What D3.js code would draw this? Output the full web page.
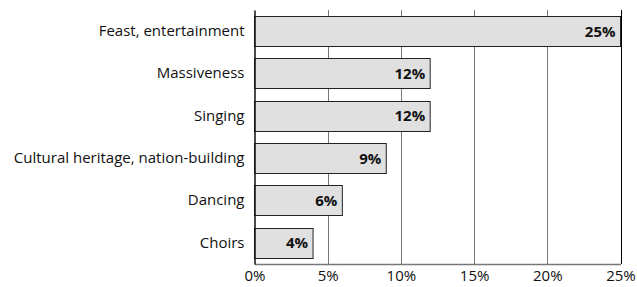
<!DOCTYPE html>
<html>
<head>
<meta charset="utf-8">
<script src="https://cdn.jsdelivr.net/npm/d3@7"></script>
<style>
  body { margin: 0; background: #fff; }
  svg { display: block; font-family: "Open Sans", "Noto Sans", sans-serif; }
</style>
</head>
<body>
<div id="chart"></div>
<script>
const categories = ["Feast, entertainment", "Massiveness", "Singing", "Cultural heritage, nation-building", "Dancing", "Choirs"];
const values = [25, 12, 12, 9, 6, 4];
const tickValues = [0, 5, 10, 15, 20, 25];

const width = 637;
const height = 287;
const marginLeft = 254.5;
const marginRight = 16.5;
const marginTop = 10;
const marginBottom = 23;

const data = categories.map((c, i) => ({ cat: c, val: values[i] }));

const x = d3.scaleLinear()
  .domain([0, 25])
  .range([marginLeft, width - marginRight]);

const y = d3.scaleBand()
  .domain(categories)
  .range([marginTop, height - marginBottom])
  .paddingInner(0.29)
  .paddingOuter(0.145);

const svg = d3.create("svg")
  .attr("width", width)
  .attr("height", height);

// gridlines
svg.append("g")
  .selectAll("line")
  .data(tickValues.slice(1))
  .join("line")
  .attr("x1", d => Math.round(x(d)) + 0.5)
  .attr("x2", d => Math.round(x(d)) + 0.5)
  .attr("y1", marginTop)
  .attr("y2", height - marginBottom)
  .attr("stroke", d => d === 25 ? "#000" : "#777")
  .attr("stroke-width", 1);

// bars
svg.append("g")
  .selectAll("rect")
  .data(data)
  .join("rect")
  .attr("x", x(0))
  .attr("y", d => Math.round(y(d.cat)) + 0.5)
  .attr("width", d => x(d.val) - x(0))
  .attr("height", Math.round(y.bandwidth()))
  .attr("fill", "#e0e0e0")
  .attr("stroke", "#222")
  .attr("stroke-width", 1);

// value labels
svg.append("g")
  .selectAll("text")
  .data(data)
  .join("text")
  .attr("x", d => x(d.val) - 5)
  .attr("y", d => y(d.cat) + y.bandwidth() / 2)
  .attr("dy", "0.36em")
  .attr("text-anchor", "end")
  .attr("font-size", 15)
  .attr("font-weight", "bold")
  .attr("fill", "#111")
  .text(d => d.val + "%");

// bottom axis
const xAxis = svg.append("g")
  .attr("transform", `translate(0, ${height - marginBottom})`)
  .call(d3.axisBottom(x).tickValues(tickValues).tickFormat(d => d + "%").tickSize(0).tickPadding(6));
xAxis.select(".domain").attr("stroke", "#777").attr("stroke-width", 1.5);
xAxis.selectAll("text").attr("font-size", 15).attr("fill", "#111")
  .style("font-family", "'Open Sans', 'Noto Sans', sans-serif");

// left axis
const yAxis = svg.append("g")
  .attr("transform", `translate(${marginLeft}, 0)`)
  .call(d3.axisLeft(y).tickSize(0).tickPadding(10));
yAxis.select(".domain").attr("stroke", "#111").attr("stroke-width", 1.5);
yAxis.selectAll("text").attr("font-size", 15).attr("fill", "#111")
  .style("font-family", "'Open Sans', 'Noto Sans', sans-serif");

// tick marks on top of left axis between bars
svg.append("g")
  .selectAll("line")
  .data(tickValues.slice(1, 5))
  .join("line")
  .attr("x1", d => Math.round(x(d)) + 0.5)
  .attr("x2", d => Math.round(x(d)) + 0.5)
  .attr("y1", marginTop)
  .attr("y2", marginTop + 5)
  .attr("stroke", "#777");

document.getElementById("chart").append(svg.node());
</script>
</body>
</html>
